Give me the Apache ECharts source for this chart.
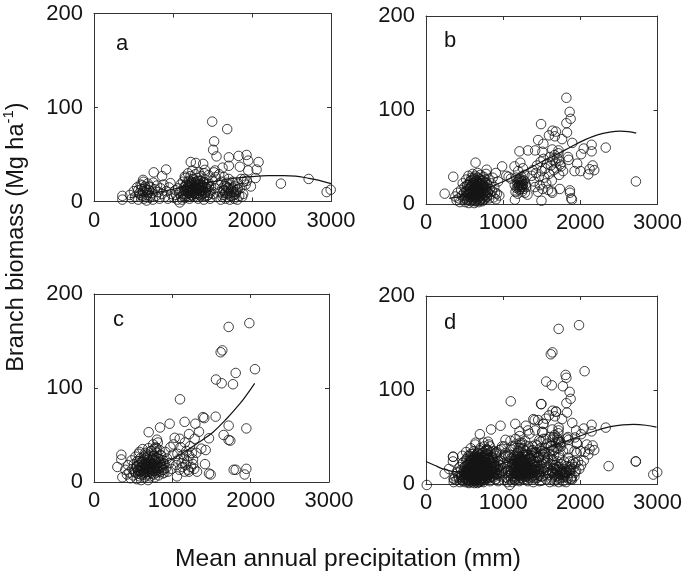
<!DOCTYPE html>
<html><head><meta charset="utf-8">
<style>html,body{margin:0;padding:0;background:#fff}#c{width:685px;height:576px}</style>
<script src="https://cdn.jsdelivr.net/npm/echarts@6/dist/echarts.min.js"></script>
</head><body><div id="c"></div>
<script>
const tickLabelsX = [0, 1000, 2000, 3000];
const tickLabelsY = [0, 100, 200];
const panelNames = ['a', 'b', 'c', 'd'];

const pointsA = [
[1496,85],[1686,77],[1521,64],[1508,55],[1551,48],[1707,47],[1830,48.5],[1931,49.5],[1952,43.5],[2083,42],[1225,42],[1289,41],[1382,40],[1846,37],[1707,38],[1627,36],[1530,33],[2058,34],[1952,33],[2045,25],[1986,16],[2366,19],[2717,24],[2945,10],[2996,12.5],[913,34],[756,31],[862,27],[621,23],[968,19.5],[359,6],[359,2],[1149,26.5],[1403,33.6],
[455,7],[480,3],[505,11],[520,5],[545,15],[560,2],[575,9],[590,18],[600,13],[612,6],[625,21],[630,3],[645,16],[650,10],[665,1],[672,7],[680,19],[695,12],[705,4],[718,15],[730,9],[745,2],[752,20],[770,13],[785,6],[798,17],[815,10],[830,3],[845,14],[860,8],[880,18],[895,5],[915,11],[935,3],[950,15],[980,8],[1010,4],[1030,12],
[1040,7],[1055,2],[1065,14],[1078,9],[1085,-1],[1095,18],[1102,5],[1110,11],[1118,2],[1125,21],[1132,8],[1140,15],[1148,4],[1155,25],[1162,11],[1170,18],[1176,6],[1183,14],[1190,30],[1196,9],[1203,22],[1208,3],[1215,16],[1222,27],[1228,12],[1234,7],[1240,19],[1246,33],[1252,14],[1258,24],[1264,5],[1270,10],[1276,17],[1282,29],[1288,21],[1294,13],[1300,8],[1306,25],[1312,18],[1318,3],[1324,31],[1330,15],[1336,11],[1342,22],[1350,6],[1358,27],[1366,17],[1374,12],[1382,20],[1390,2],[1398,30],[1406,9],[1414,23],[1422,15],[1430,6],[1440,19],[1450,28],[1460,11],[1470,3],[1482,16],[1495,22],[1505,8],[1518,31],[1530,14],[1542,26],[1555,5],[1570,18],[1585,29],
[1595,10],[1605,2],[1615,21],[1625,14],[1635,7],[1645,26],[1655,17],[1665,3],[1672,11],[1680,20],[1688,5],[1696,15],[1704,24],[1712,9],[1720,2],[1728,18],[1736,13],[1744,6],[1755,21],[1765,10],[1775,3],[1785,16],[1795,8],[1805,12],[1815,2],[1825,19],[1838,6],[1850,14],[1862,24],[1875,5],[1888,8],[1895,21],[1905,24],[1920,18],[1935,22],
[1135,6],[1145,12],[1158,17],[1166,8],[1172,13],[1180,21],[1187,10],[1193,16],[1199,5],[1206,12],[1212,19],[1218,9],[1225,15],[1231,21],[1237,11],[1243,6],[1249,17],[1255,9],[1261,13],[1267,20],[1273,8],[1279,15],[1285,11],[1291,18],[1297,14],[1303,5],[1309,12],[1315,22],[1321,9],[1327,18],[1333,7],[1339,14],[1345,19],[1353,11],[1361,15],[1369,8],[1377,17],[1385,12],[1393,21],[1401,6],[1409,14],[1418,10],[1427,18],[1436,13],[1445,7],[1455,16],[1466,9],
[560,12],[585,7],[605,17],[618,11],[638,14],[655,5],[668,12],[685,9],[700,16],[712,6],[1625,5],[1640,12],[1660,9],[1675,16],[1692,8],[1708,13],[1725,6],[1740,10],[1760,14],[1780,7],[1800,10],[1820,13]
];

const pointsB = [
[1819,113],[1861,98],[1874,90.6],[1819,86],[1491,85],[1827,76],[1640,78],[1683,77],[1593,73],[1670,72],[1763,69],[1453,68],[1895,65],[1521,64],[2146,63],[2329,60],[2044,59],[2146,56],[2010,53],[1211,56],[1321,57],[1415,57],[1508,55.6],[1636,58],[1717,57],[642,44],[986,40],[786,36.5],[353,29],[242,11],[2720,24],[1959,43],[2159,41],[2001,35],[1925,35],[2180,36],[2103,31.5],[2120,37],[1840,50],[1848,47],[1725,31],[1776,35],[1152,4.6],[1496,3.5],[1865,14.5],[1865,12],[1882,6],[1891,4.6],[1627,13.5],[1636,12],[1734,16],[905,33],[1147,40],
[380,8],[395,4],[410,12],[425,6],[440,2],[455,15],[465,9],[475,22],[485,5],[495,12],[500,18],[508,2],[514,8],[520,26],[526,14],[532,4],[538,20],[544,10],[550,30],[555,1],[560,16],[565,7],[570,24],[575,12],[580,3],[585,19],[590,28],[595,9],[600,15],[605,32],[610,5],[615,22],[620,11],[625,1],[628,26],[632,17],[636,7],[640,30],[644,13],[648,21],[652,3],[656,9],[660,25],[664,16],[668,33],[672,6],[676,19],[680,11],[684,2],[688,27],[692,14],[696,8],[700,22],[704,31],[708,4],[712,17],[716,10],[720,25],[725,14],[730,3],[735,20],[740,7],[745,29],[750,12],[755,17],[760,5],[766,23],[772,10],[778,32],[784,15],[790,8],[797,20],[804,12],[812,26],[820,6],[828,16],[836,10],[845,22],[855,14],[865,28],[875,7],[885,18],[895,12],[905,5],[920,11],[935,24],[950,9],[1040,30],[1070,29],[1100,27],
[1150,20],[1160,13],[1168,28],[1175,17],[1182,23],[1188,11],[1194,35],[1200,19],[1205,26],[1210,15],[1216,22],[1222,44],[1228,18],[1234,29],[1240,24],[1245,13],[1250,20],[1256,38],[1262,16],[1268,25],[1275,31],[1282,12],[1290,21],[1300,18],[1315,10],
[1370,30],[1385,36],[1400,24],[1412,18],[1425,33],[1438,41],[1450,13],[1462,29],[1474,20],[1486,45],[1498,35],[1510,16],[1522,48],[1534,28],[1546,38],[1558,22],[1570,43],[1582,15],[1594,32],[1606,50],[1618,41],[1630,25],[1642,47],[1654,36],[1666,52],[1678,44],[1690,38],[1702,49],[1714,54],[1726,46],[1738,42],[1750,40],
[505,6],[518,13],[528,20],[536,9],[543,16],[549,5],[556,12],[562,21],[568,10],[573,17],[578,7],[583,25],[588,14],[592,4],[597,20],[602,11],[606,26],[611,16],[616,7],[621,28],[626,13],[630,22],[634,10],[638,3],[642,18],[646,25],[650,8],[654,14],[658,20],[662,5],[666,11],[670,28],[674,15],[678,23],[682,7],[686,17],[690,12],[694,21],[698,4],[702,15],[706,26],[710,9],[714,20],[718,13],[722,6],[727,22],[732,11],[737,16],[742,25],[747,5],[752,19],[757,9],[763,14],[769,26],[775,18],[782,7],[790,22],[798,13],
[1190,18],[1198,24],[1207,20],[1213,27],[1220,16],[1226,23],[1232,20],[1238,26],[1244,18],[1252,24],[1258,21]
];

const pointsC = [
[1719,165],[1983,169],[1638,140],[1617,138],[2055,120],[1809,116],[1557,109],[1630,105],[1774,104],[1098,88],[1391,69],[1408,68],[1553,69.5],[1157,64],[1294,62],[966,62],[843,58],[698,53],[1719,60],[1945,57],[1655,50],[1719,44.7],[1740,44],[1468,46.5],[1285,46],[1340,53.5],[1213,51],[1030,47],[1094,46],[804,45],[1417,19],[1468,9],[1489,8],[1783,13],[1809,13],[1945,14],[1923,8],[1060,6],[349,29],[349,24],[298,16],[362,5],[1426,34],[1370,35.5],[1306,31],[1264,24],[1315,11],[1213,11],[1157,11],
[400,13],[420,8],[435,18],[450,10],[465,4],[480,23],[490,14],[500,7],[510,19],[520,11],[530,27],[538,16],[545,3],[552,22],[560,9],[566,13],[572,30],[578,18],[584,6],[590,25],[596,11],[602,2],[608,16],[614,21],[620,35],[625,8],[630,13],[635,27],[640,19],[645,5],[650,10],[655,31],[660,16],[665,23],[670,7],[675,13],[680,26],[685,19],[690,2],[695,36],[700,11],[705,16],[710,22],[715,28],[720,6],[725,14],[730,19],[735,33],[740,9],[745,24],[750,16],[755,40],[760,12],[765,20],[770,28],[775,5],[780,15],[785,37],[790,23],[795,10],[800,18],[805,31],[810,13],[815,42],[820,25],[825,7],[830,17],[838,34],[845,21],[852,11],[860,28],[868,16],[875,9],[882,23],[890,13],[900,19],[910,32],[920,15],[932,25],[945,11],[960,20],[975,37],[990,14],[1005,29],[1015,40],
[1050,18],[1065,30],[1080,24],[1092,13],[1105,37],[1118,20],[1128,16],[1140,29],[1150,25],[1160,42],[1170,18],[1180,33],[1192,22],[1205,13],[1215,28],[1225,38],[1238,16],[1250,31],[1265,19],[1280,14],
[530,10],[548,17],[562,12],[574,22],[586,15],[598,8],[606,21],[617,13],[627,18],[637,10],[643,24],[652,15],[662,20],[668,11],[678,17],[688,24],[693,9],[703,19],[713,14],[722,21],[728,10],[737,25],[743,13],[752,19],[758,28],[763,8],[772,17],[782,23],[788,12],[797,26],[803,15],[812,20],[822,11],[832,24],[842,15],[850,29],[858,18],[872,13],[885,20],[898,10],[580,32],[660,29],[725,33],[770,35],[800,36]
];

const extraD = [[10,-1],
[470,30],[520,34],[580,38],[640,42],[700,38],[745,44],[770,30],[830,40],[875,35],[905,30],[950,36],[1000,22],[1030,33],[985,12],[1090,31],[1120,40],[1160,48],[1200,38],[1245,44],[1290,35],[1330,40],[1375,33],[1420,42],[1465,28],[1480,38],[1540,34],[1580,26],[1615,40],[1660,30],[1730,28],[1790,24],[1840,28],[1880,16],[1930,12],[1970,24],[2010,20],
[620,28],[680,32],[740,18],[810,28],[870,22],[930,18],[1060,22],[1100,15],[1140,22],[1210,30],[1270,26],[1335,28],[1390,25],[1440,24],[1490,14],[1575,12],[1650,20],[1700,18],[1770,12],[1830,8],[1860,18]
];

const curveA = [[450,4],[700,8],[1000,13],[1250,17.5],[1500,21],[1750,24.5],[2000,26.5],[2200,27.5],[2400,27.6],[2550,27],[2700,25],[2850,22.5],[3000,19]];
const curveB = [[300,6],[500,9],[700,14],[948,22],[1200,32],[1500,45],[1700,53],[1882,61],[2050,68],[2222,73.6],[2380,76.5],[2520,77.5],[2620,77],[2724,75.4]];
const curveC = [[500,10],[700,15],[850,20],[1008,25],[1221,35.5],[1370,44],[1519,53],[1690,67],[1860,83],[1960,94],[2051,105]];
const curveD = [[0,24],[110,20],[225,16],[400,13],[600,14],[800,17],[1000,22],[1250,29],[1500,36],[1797,45],[2137,55],[2391,61],[2550,62.8],[2690,63.4],[2850,62.5],[2987,60.5]];

const pointsD = pointsA.concat(pointsB, pointsC, extraD);
const allPoints = [pointsA, pointsB, pointsC, pointsD];
const allCurves = [curveA, curveB, curveC, curveD];

const FONT = '"Liberation Sans", Arial, sans-serif';
const INK = '#141414';
const boxes = [
  {left:94, top:13.5, width:237, height:188},
  {left:426, top:16, width:235, height:188},
  {left:94, top:294, width:235, height:188},
  {left:426, top:296, width:235, height:188}
];

const grid = [], xAxis = [], yAxis = [], series = [];
boxes.forEach((b, i) => {
  grid.push(Object.assign({containLabel:false}, b));
  const line = {show:true, onZero:false, lineStyle:{color:'#333', width:1}};
  const tick = {show:true, inside:true, length:4, lineStyle:{color:'#333', width:1}};
  [false, true].forEach(mirror => {
    xAxis.push({gridIndex:i, type:'value', min:0, max:3000, interval:1000,
      position: mirror ? 'top' : 'bottom', axisLine:line, axisTick:tick, splitLine:{show:false},
      axisLabel: mirror ? {show:false} : {show:true, fontFamily:FONT, fontSize:22, color:INK, margin:8,
        customValues:tickLabelsX, formatter:v => String(v)}});
    yAxis.push({gridIndex:i, type:'value', min:0, max:200, interval:100,
      position: mirror ? 'right' : 'left', axisLine:line, axisTick:tick, splitLine:{show:false},
      axisLabel: mirror ? {show:false} : {show:true, fontFamily:FONT, fontSize:22, color:INK, margin:11,
        customValues:tickLabelsY, formatter:v => String(v)}});
  });
  series.push({type:'scatter', xAxisIndex:i*2, yAxisIndex:i*2, data:allPoints[i], clip:false,
    symbol:'circle', symbolSize:9.5, silent:true, animation:false,
    itemStyle:{color:'rgba(0,0,0,0)', borderColor:INK, borderWidth:1}});
  series.push({type:'line', xAxisIndex:i*2, yAxisIndex:i*2, data:allCurves[i], smooth:0.4,
    showSymbol:false, silent:true, animation:false, clip:false, lineStyle:{color:INK, width:1.2}});
});

const letterPos = [[116,33],[444,30],[113,309],[444,312]];
const graphic = panelNames.map((t, i) => ({type:'text', left:letterPos[i][0], top:letterPos[i][1],
  style:{text:t, fontFamily:FONT, fontSize:22, fill:INK}}));
graphic.push({type:'text', x:348, y:559, style:{text:'Mean annual precipitation (mm)', fontFamily:FONT,
  fontSize:24.6, fill:INK, align:'center', verticalAlign:'middle'}});
graphic.push({type:'text', x:15, y:237, rotation:Math.PI/2, style:{
  text:'{m|Branch biomass (Mg ha}{s|-1}{m|)}', align:'center', verticalAlign:'middle', fontFamily:FONT,
  rich:{m:{fontFamily:FONT, fontSize:23.5, fill:INK, lineHeight:28, verticalAlign:'bottom'},
        s:{fontFamily:FONT, fontSize:15, fill:INK, lineHeight:28, verticalAlign:'top'}}}});

const chart = echarts.init(document.getElementById('c'), null, {renderer:'canvas'});
chart.setOption({animation:false, backgroundColor:'#fff', grid, xAxis, yAxis, series, graphic});
</script></body></html>
